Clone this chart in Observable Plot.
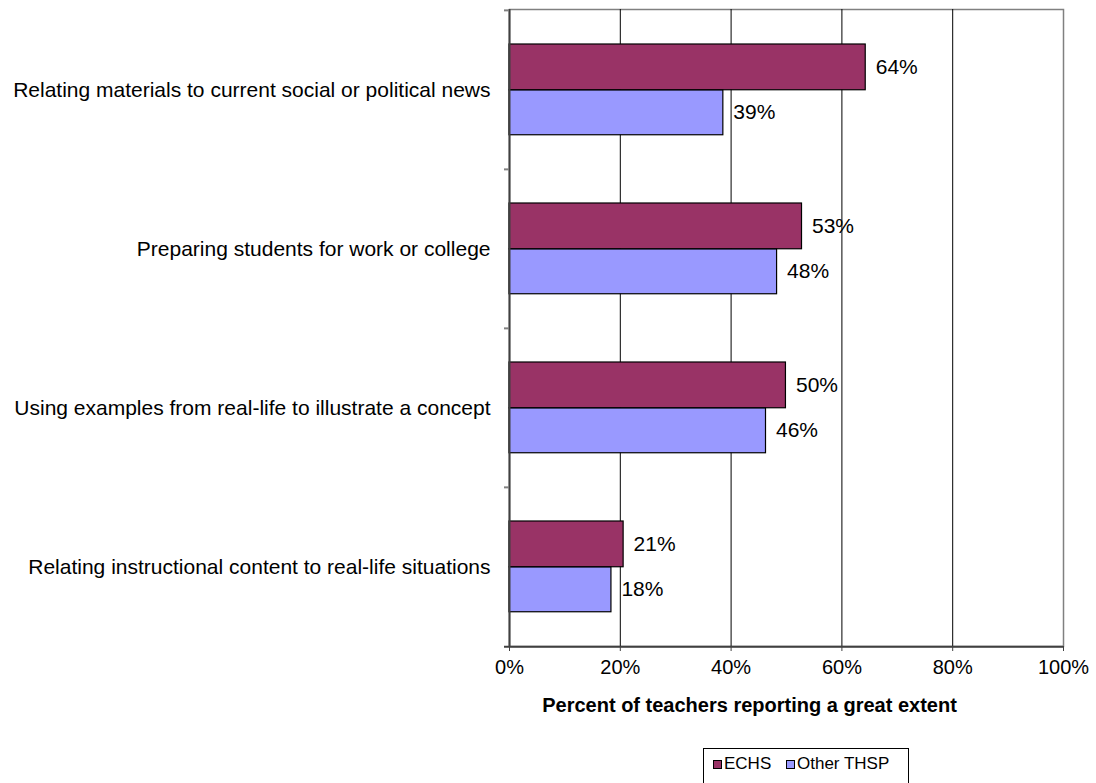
<!DOCTYPE html>
<html>
<head>
<meta charset="utf-8">
<script src="https://cdn.jsdelivr.net/npm/d3@7"></script>
<script src="https://cdn.jsdelivr.net/npm/@observablehq/plot@0.6"></script>
<style>
  html, body { margin: 0; padding: 0; background: #fff; }
  body { width: 1096px; height: 783px; position: relative; overflow: hidden; font-family: "Liberation Sans", Arial, sans-serif; }
  #chart { position: absolute; left: 0; top: 0; }
  #legend { position: absolute; left: 703px; top: 748px; width: 206px; height: 40px; border: 1px solid #000; box-sizing: border-box; font-size: 17px; color: #000; }
  .item { position: absolute; top: 5px; display: flex; align-items: center; }
  .sw { width: 7px; height: 7px; border: 1px solid #000; margin-right: 2px; }
</style>
</head>
<body>
<div id="chart"></div>
<div id="legend"></div>
<script>
const categories = [
  "Relating materials to current social or political news",
  "Preparing students for work or college",
  "Using examples from real-life to illustrate a concept",
  "Relating instructional content to real-life situations"
];
const seriesNames = ["ECHS", "Other THSP"];
const echsValues = [64.3, 52.8, 49.9, 20.6];
const otherValues = [38.6, 48.3, 46.3, 18.4];
const xTicks = [0, 20, 40, 60, 80, 100];
const colors = ["#993366", "#9999FF"];
const xTitle = "Percent of teachers reporting a great extent";

const echs = categories.map((c, i) => ({category: c, series: seriesNames[0], value: echsValues[i]}));
const other = categories.map((c, i) => ({category: c, series: seriesNames[1], value: otherValues[i]}));

const plotTop = 9, plotBottom = 646, plotLeft = 509, plotRight = 1063;
const step = (plotBottom - plotTop) / categories.length;
const px = 100 / (plotRight - plotLeft); // data units per pixel

const chart = Plot.plot({
  width: 1096,
  height: 726,
  marginLeft: plotLeft,
  marginRight: 1096 - plotRight,
  marginTop: plotTop,
  marginBottom: 726 - plotBottom,
  style: {fontFamily: "'Liberation Sans', Arial, sans-serif", fontSize: "20px", color: "#000", background: "#fff"},
  x: {domain: [0, 100]},
  y: {domain: categories, padding: 0},
  marks: [
    Plot.frame({stroke: "#808080", strokeWidth: 1.5}),
    Plot.ruleX(xTicks.filter(d => d > 0 && d < 100), {stroke: "#000", strokeWidth: 1}),
    Plot.barX(echs, {x: "value", y: "category", fill: colors[0], stroke: "#000", strokeWidth: 1.2, insetTop: 34, insetBottom: step - 80}),
    Plot.barX(other, {x: "value", y: "category", fill: colors[1], stroke: "#000", strokeWidth: 1.2, insetTop: 80, insetBottom: step - 125}),
    Plot.text(echs, {x: "value", y: "category", text: d => Math.round(d.value) + "%", dx: 10, dy: -22.5, textAnchor: "start", fontSize: 21}),
    Plot.text(other, {x: "value", y: "category", text: d => Math.round(d.value) + "%", dx: 10, dy: 22.5, textAnchor: "start", fontSize: 21}),
    Plot.ruleX([0], {stroke: "#404040", strokeWidth: 2}),
    Plot.ruleY(categories, {y: d => d, dy: -step / 2, x1: -5 * px, x2: 0, stroke: "#808080", strokeWidth: 2}),
    Plot.ruleY([categories[categories.length - 1]], {y: d => d, dy: step / 2, x1: -5 * px, x2: 100, stroke: "#404040", strokeWidth: 2}),
    Plot.axisX(xTicks, {tickSize: 5, tickPadding: 8, stroke: "#404040", tickFormat: d => d + "%", fontSize: 20,
      label: xTitle, labelAnchor: "center", labelArrow: "none", labelOffset: 65}),
    Plot.axisY({tickSize: 0, tickPadding: 19, fontSize: 21, label: null})
  ]
});
chart.querySelectorAll("text").forEach(t => {
  if (t.textContent === xTitle) {
    t.setAttribute("font-weight", "bold");
    t.setAttribute("font-size", 20);
    t.setAttribute("dx", -37);
  }
});
document.getElementById("chart").appendChild(chart);

const legend = document.getElementById("legend");
const positions = [9, 82];
seriesNames.forEach((name, i) => {
  const item = document.createElement("div");
  item.className = "item";
  item.style.left = positions[i] + "px";
  const sw = document.createElement("div");
  sw.className = "sw";
  sw.style.background = colors[i];
  const label = document.createElement("span");
  label.textContent = name;
  item.appendChild(sw);
  item.appendChild(label);
  legend.appendChild(item);
});
</script>
</body>
</html>
